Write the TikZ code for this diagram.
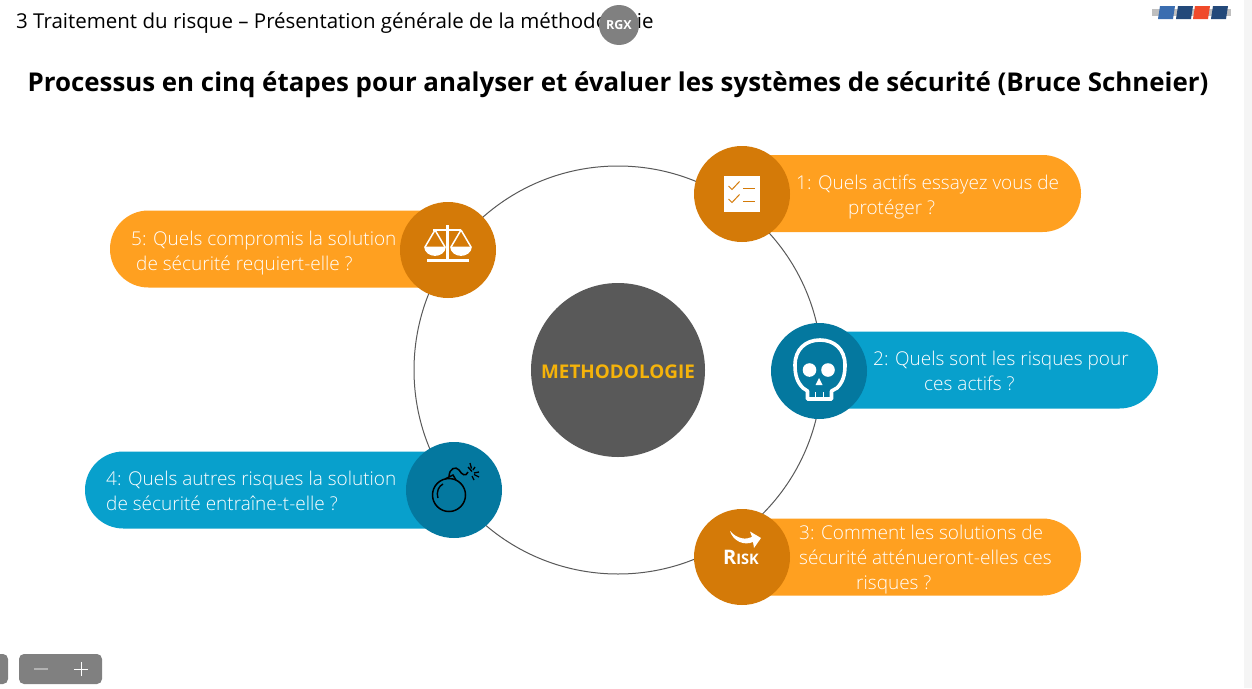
\documentclass[tikz,border=0pt]{standalone}
\usepackage{fontspec}
\setmainfont{Open Sans}
\newfontfamily\lightf{Open Sans Light}
\usetikzlibrary{calc}
\definecolor{orpill}{HTML}{FFA020}
\definecolor{ordark}{HTML}{D47A08}
\definecolor{blpill}{HTML}{08A0CC}
\definecolor{bldark}{HTML}{04789F}
\definecolor{hub}{HTML}{595959}
\definecolor{gold}{HTML}{F5B30A}
\tikzset{
  pill/.style={inner sep=0pt,rounded corners=38.4pt,minimum height=77pt},
  disc/.style={circle,inner sep=0pt,minimum size=96pt},
  qtext/.style={text=white,font=\lightf\fontsize{19}{25}\selectfont,align=left,inner sep=0pt,anchor=west},
  ctrlbtn/.style={fill=black!50,rounded corners=5pt,inner sep=0pt},
}
\begin{document}
\begin{tikzpicture}[x=1pt,y=-1pt]
\useasboundingbox (0,0) rectangle (1252,688);
\fill[white] (0,0) rectangle (1252,688);
\fill[black!4] (1244,0) rectangle (1252,688);
% header
\node[anchor=west,inner sep=0pt,font=\fontsize{20.5}{24}\selectfont] (head) at (16,23) {3 Traitement du risque – Présentation générale de la méthodologie};
\node[circle,fill=black!50,minimum size=40pt,inner sep=0pt,text=white,font=\fontsize{12.5}{14}\selectfont\bfseries] (rgx) at (619,25) {RGX};
\node[inner sep=0pt,font=\fontsize{25.87}{30}\selectfont\bfseries] (title) at (618,85) {Processus en cinq étapes pour analyser et évaluer les systèmes de sécurité (Bruce Schneier)};
% logo strip
\fill[black!25] (1152,9) rectangle (1231,16);
\foreach \x/\c in {1158/3A6DB0,1176/23497A,1193/F04A2A,1211/23497A}{
  \definecolor{tmpc}{HTML}{\c}
  \fill[tmpc] (\x+2,6) -- (\x+17,6) -- (\x+15,19) -- (\x,19) -- cycle;
}
% ring and hub
\node[circle,draw=hub,line width=1pt,minimum size=408pt,inner sep=0pt] (ring) at (618,370) {};
\node[circle,fill=hub,minimum size=174pt,inner sep=0pt] (hubn) at (618,370) {};
\node[inner sep=0pt,text=gold,font=\fontsize{18.9}{22}\selectfont\bfseries] (hubl) at (618,372) {METHODOLOGIE};
% pills
\node[pill,fill=orpill,minimum width=371pt] (p1) at (895.5,193.5) {};
\node[pill,fill=blpill,minimum width=371pt] (p2) at (972.5,370) {};
\node[pill,fill=orpill,minimum width=371pt] (p3) at (895.5,557) {};
\node[pill,fill=blpill,minimum width=400pt] (p4) at (285,490) {};
\node[pill,fill=orpill,minimum width=371pt] (p5) at (295.5,249) {};
% discs
\node[disc,fill=ordark] (d1) at (742,194) {};
\node[disc,fill=bldark] (d2) at (819,371) {};
\node[disc,fill=ordark] (d3) at (742,557) {};
\node[disc,fill=bldark] (d4) at (454,490) {};
\node[disc,fill=ordark] (d5) at (448,250) {};
% texts
\node[qtext] (t1) at (796,197) {1: Quels actifs essayez vous de\\\hspace*{52pt}protéger ?};
\node[qtext] (t2) at (873,371) {2: Quels sont les risques pour\\\hspace*{51pt}ces actifs ?};
\node[qtext] (t3) at (799,559.5) {3: Comment les solutions de\\sécurité atténueront-elles ces\\\hspace*{57pt}risques ?};
\node[qtext] (t4) at (106,491) {4: Quels autres risques la solution\\de sécurité entraîne-t-elle ?};
\node[qtext] (t5) at (131,253) {5: Quels compromis la solution\\\hspace*{5pt}de sécurité requiert-elle ?};
% checklist icon
\fill[white] (724,176) rectangle (760,212);
\draw[ordark,line width=1pt] (728.5,186) -- (732,189.5) -- (739.5,181.5);
\draw[ordark,line width=1pt] (728.5,199) -- (732,202.5) -- (739.5,194.5);
\draw[ordark,line width=1pt] (743,188.5) -- (755,188.5);
\draw[ordark,line width=1pt] (743,201) -- (755,201);
% skull icon
\draw[white,line width=3.6pt,line join=round] (807.5,399) -- (807.5,391) -- (803,388) .. controls (797,382) and (795,375) .. (795,365)
  .. controls (795,349) and (806,340) .. (820,340) .. controls (834,340) and (845,349) .. (845,365)
  .. controls (845,375) and (843,382) .. (837,388) -- (831.5,391) -- (831.5,399) -- cycle;
\fill[white] (809.5,370) circle (6.8pt) (828,370) circle (6.8pt);
\fill[white] (819,378) -- (822.5,385) -- (815.5,385) -- cycle;
\draw[white,line width=1.6pt] (815.5,392) -- (815.5,399) (823.5,392) -- (823.5,399);
% risk icon
\fill[white] (730,531) .. controls (737,539) and (746,540) .. (752,537) -- (750,531.5) -- (761,538) -- (754,548) -- (753,542)
  .. controls (744,546) and (733,541) .. (730,531) -- cycle;
\node[inner sep=0pt,text=white,font=\fontsize{20}{22}\selectfont\bfseries] (risk) at (741,557.5) {R\fontsize{14.5}{16}\selectfont ISK};
% bomb icon
\draw[black,line width=1.5pt] (449,495) circle (16.5pt);
\draw[black,line width=1.4pt] (438,498) .. controls (436,491) and (439,486) .. (443,484);
\draw[black,line width=1.5pt] (445,479) -- (453,475) -- (456,480);
\draw[black,line width=1.5pt] (449,477) .. controls (449,468) and (456,466) .. (459,470) .. controls (462,475) and (466,477) .. (468,472);
\draw[black,line width=1.3pt] (468,467) -- (472,471.5) (470,463) -- (471.5,468.5) (475,467) -- (473,470)
  (479,472) -- (474,473) (479,477) -- (474,474.5) (474,480) -- (472,476);
% scales icon
\draw[white,line width=3pt] (447,225) -- (447,260);
\draw[white,line width=1.8pt] (433,230) -- (461,230);
\draw[white,line width=2.6pt] (427,260.5) -- (469,260.5);
\draw[white,line width=1.5pt] (435,230) -- (425,247) (435,230) -- (445,247) (461,230) -- (451,247) (461,230) -- (471,247);
\fill[white] (424,246.5) -- (446,246.5) .. controls (445,259) and (425,259) .. (424,246.5) -- cycle;
\fill[white] (450,246.5) -- (472,246.5) .. controls (471,259) and (451,259) .. (450,246.5) -- cycle;
% bottom controls
\node[ctrlbtn,minimum width=83pt,minimum height=30pt] (zoombtn) at (60.5,669) {};
\node[ctrlbtn,minimum width=20pt,minimum height=30pt] (leftbtn) at (-2,669) {};
\draw[black!30,line width=1.6pt] (34,669) -- (48,669);
\draw[white,line width=1pt] (74,669) -- (88,669) (81,662) -- (81,676);
\end{tikzpicture}
\end{document}
